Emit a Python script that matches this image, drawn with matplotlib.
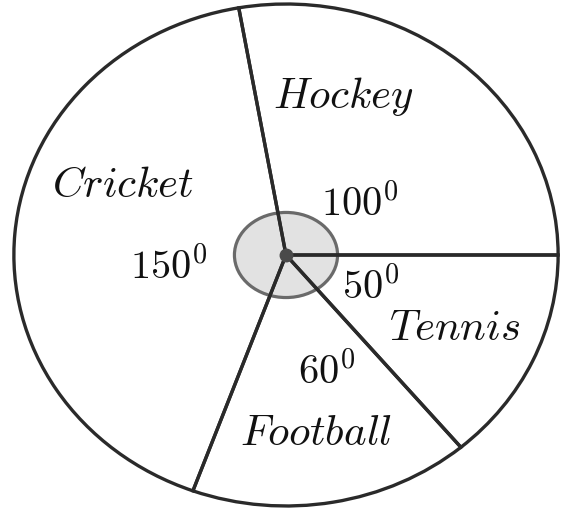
import matplotlib.pyplot as plt
from matplotlib.patches import Ellipse

plt.rcParams['mathtext.fontset'] = 'cm'

# sports and their sector angles (degrees)
sports = ['Hockey', 'Cricket', 'Football', 'Tennis']
angles = [100, 150, 60, 50]

# where the names and angle labels sit (axes data units)
name_pos = [(0.21, 0.63), (-0.60, 0.28), (0.11, -0.71), (0.62, -0.29)]
angle_pos = [(0.27, 0.20), (-0.43, -0.05), (0.15, -0.47), (0.31, -0.13)]

fig = plt.figure(figsize=(5.72, 5.13), dpi=100)
ax = fig.add_axes([0, 0, 1, 1])

# light gray disc at the centre
ax.add_patch(Ellipse((0, 0), 0.379, 0.339, facecolor='#e2e2e2',
                     edgecolor='#6a6a6a', linewidth=2.3, zorder=2))

wedges, _ = ax.pie(angles, startangle=0, counterclock=True, radius=1,
                   wedgeprops=dict(facecolor='none', edgecolor='#2a2a2a',
                                   linewidth=2.4, zorder=3))
ax.plot(0, 0, 'o', ms=9, color='#4a4a4a', zorder=4)

for name, (x, y) in zip(sports, name_pos):
    ax.text(x, y, '$' + name + '$', fontsize=31, ha='center', va='center',
            color='#111111')
for a, (x, y) in zip(angles, angle_pos):
    ax.text(x, y, '$%d^0$' % a, fontsize=29, ha='center', va='center',
            color='#111111')

ax.set_aspect('auto')
ax.set_xlim(-1.051, 1.051)
ax.set_ylim(-1.028, 1.016)
ax.axis('off')

fig.savefig('out.png', dpi=100)
